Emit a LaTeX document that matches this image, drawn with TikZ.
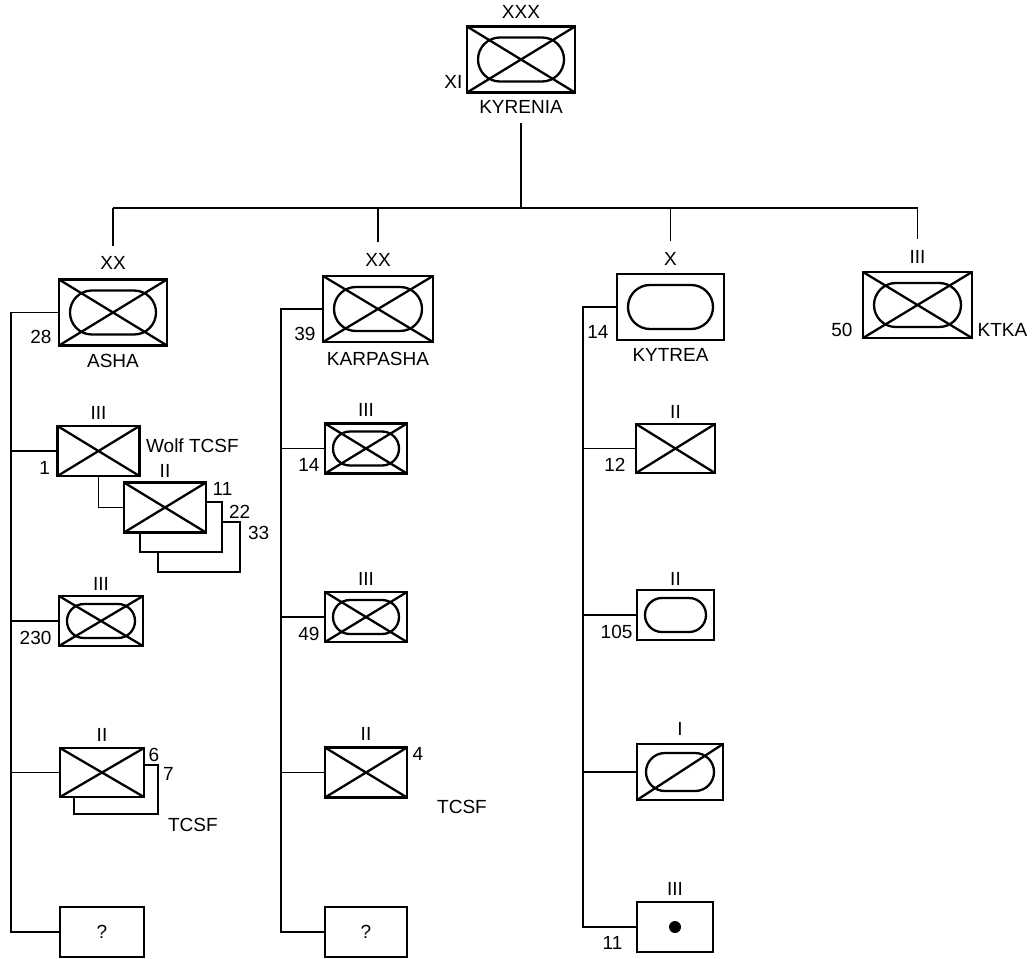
\documentclass[tikz,border=0pt]{standalone}
\usepackage{fontspec}
\setmainfont{Liberation Sans}
\usetikzlibrary{positioning}

\newcommand\unitcross{\draw[sym] (path picture bounding box.south west) -- (path picture bounding box.north east)
  (path picture bounding box.north west) -- (path picture bounding box.south east);}
\newcommand\unitoval[2]{\draw[sym,rounded corners=#2] ([shift={(#1,-#1)}]path picture bounding box.north west)
  rectangle ([shift={(-#1,#1)}]path picture bounding box.south east);}

\tikzset{
  sym/.style={line width=2.3pt},
  unit/.style={draw, line width=2.8pt, fill=white, inner sep=0pt},
  big/.style={unit, minimum width=108pt, minimum height=66pt},
  small/.style={unit, minimum width=82pt, minimum height=50pt},
  inf/.style={path picture={\unitcross}},
  mechbig/.style={path picture={\unitcross\unitoval{11pt}{21.9pt}}},
  mechsmall/.style={path picture={\unitcross\unitoval{8pt}{16.9pt}}},
  armbig/.style={path picture={\unitoval{11pt}{21.9pt}}},
  armsmall/.style={path picture={\unitoval{8pt}{16.9pt}}},
  stackbox/.style={draw, line width=1.8pt, fill=white, inner sep=0pt, minimum width=82pt, minimum height=50pt},
  ech/.style={inner sep=1pt},
  num/.style={inner sep=1pt},
  link/.style={line width=1.3pt},
}

\begin{document}
\begin{tikzpicture}[x=1pt,y=-1pt,font=\fontsize{19}{22}\selectfont]
\useasboundingbox (0,0) rectangle (1032,958);
% corps
\node[big,mechbig] (kyrenia) at (521,59.5) {};
\node[ech,above=5pt of kyrenia] (kyrxxx) {XXX};
\node[num,anchor=south east] (kyrxi) at ([xshift=-2pt,yshift=4pt]kyrenia.south west) {XI};
\node[ech,below=5pt of kyrenia] (kyrname) {KYRENIA};
\coordinate (bus) at (521,208);

% ASHA division
\node[big,mechbig] (asha) at (113,312.5) {};
\node[ech,above=7pt of asha] (ashaxx) {XX};
\node[num,anchor=south east] (asha28) at ([xshift=-5pt,yshift=2pt]asha.south west) {28};
\node[ech,below=6pt of asha] (ashaname) {ASHA};
\coordinate (colA) at (11,0);
\node[small,inf] (wolf) at (98.5,451) {};
\node[ech,above=4pt of wolf] (wolfiii) {III};
\node[num,anchor=south east] (wolf1) at ([xshift=-5pt,yshift=2pt]wolf.south west) {1};
\node[num,anchor=base west] (wolfname) at ([xshift=4pt,yshift=-1pt]wolf.east) {Wolf TCSF};
\node[stackbox] (bat33) at (199,547) {};
\node[stackbox] (bat22) at (181,527) {};
\node[small,inf] (bat11) at (165,507.5) {};
\node[ech,above=2pt of bat11] (bat11ii) {II};
\node[num,anchor=north west] (lab11) at ([xshift=4pt]bat11.north east) {11};
\node[num,anchor=north west] (lab22) at ([xshift=5pt,yshift=-3pt]bat22.north east) {22};
\node[num,anchor=north west] (lab33) at ([xshift=6pt,yshift=-4pt]bat33.north east) {33};
\node[small,mechsmall,minimum width=84pt] (a230) at (101,621) {};
\node[ech,above=3pt of a230] (a230iii) {III};
\node[num,anchor=south east] (lab230) at ([xshift=-5pt,yshift=2pt]a230.south west) {230};
\node[stackbox,minimum width=84pt,minimum height=49pt] (bat7) at (116,789.5) {};
\node[small,inf,minimum width=84pt,minimum height=49pt] (bat6) at (102,772.5) {};
\node[ech,above=4pt of bat6] (bat6ii) {II};
\node[num,anchor=north west] (lab6) at ([xshift=2pt]bat6.north east) {6};
\node[num,anchor=north west] (lab7) at ([xshift=3pt,yshift=-2pt]bat7.north east) {7};
\node[num,anchor=west] (tcsfa) at ([xshift=8pt,yshift=-10pt]bat7.south east) {TCSF};
\node[small,minimum width=84pt] (qa) at (102,932) {?};
\draw[link] (asha.west) -- (asha.west -| colA) |- (qa.west);
\foreach \u in {wolf,a230,bat6} \draw[link] (\u.west) -- (\u.west -| colA);
\draw[link] (wolf.south) |- (bat11.west);

% KARPASHA division
\node[big,mechbig,minimum width=110pt] (karp) at (378,309) {};
\node[ech,above=7pt of karp] (karpxx) {XX};
\node[num,anchor=south east] (karp39) at ([xshift=-5pt,yshift=2pt]karp.south west) {39};
\node[ech,below=8pt of karp] (karpname) {KARPASHA};
\coordinate (colK) at (281,0);
\node[small,mechsmall] (k14) at (366,448.5) {};
\node[ech,above=4pt of k14] (k14iii) {III};
\node[num,anchor=south east] (lab14k) at ([xshift=-3pt,yshift=2pt]k14.south west) {14};
\node[small,mechsmall] (k49) at (366,617) {};
\node[ech,above=4pt of k49] (k49iii) {III};
\node[num,anchor=south east] (lab49) at ([xshift=-3pt,yshift=2pt]k49.south west) {49};
\node[small,inf] (k4) at (366,772.5) {};
\node[ech,above=4pt of k4] (k4ii) {II};
\node[num,anchor=north west] (lab4) at ([xshift=3pt]k4.north east) {4};
\node[num,anchor=west] (tcsfk) at (436,807) {TCSF};
\node[small] (qk) at (366,932) {?};
\draw[link] (karp.west) -- (karp.west -| colK) |- (qk.west);
\foreach \u in {k14,k49,k4} \draw[link] (\u.west) -- (\u.west -| colK);

% KYTREA brigade
\node[big,armbig,minimum width=107pt] (kyt) at (670.5,307) {};
\node[ech,above=6pt of kyt] (kytx) {X};
\node[num,anchor=south east] (kyt14) at ([xshift=-6pt,yshift=2pt]kyt.south west) {14};
\node[ech,below=6pt of kyt] (kytname) {KYTREA};
\coordinate (colT) at (583,0);
\node[small,inf,minimum width=79pt,minimum height=49pt] (t12) at (675.5,448.5) {};
\node[ech,above=3pt of t12] (t12ii) {II};
\node[num,anchor=south east] (lab12) at ([xshift=-8pt,yshift=2pt]t12.south west) {12};
\node[small,armsmall,minimum width=77pt] (t105) at (675.5,615) {};
\node[ech,above=2pt of t105] (t105ii) {II};
\node[num,anchor=south east] (lab105) at ([xshift=-2pt,yshift=2pt]t105.south west) {105};
\node[small,minimum width=86pt,minimum height=56pt,
  path picture={\draw[sym] (path picture bounding box.south west) -- (path picture bounding box.north east);
  \unitoval{9pt}{18.9pt}}] (trec) at (680,772) {};
\node[ech,above=6pt of trec] (treci) {I};
\node[small,minimum width=76pt,
  path picture={\fill[black] (path picture bounding box.center) circle (6pt);}] (t11) at (675,927) {};
\node[ech,above=4pt of t11] (t11iii) {III};
\node[num,anchor=north east] (lab11t) at ([xshift=-12pt,yshift=-8pt]t11.west) {11};
\draw[link] (kyt.west) -- (kyt.west -| colT) |- (t11.west);
\foreach \u in {t12,t105,trec} \draw[link] (\u.west) -- (\u.west -| colT);

% KTKA regiment
\node[big,mechbig,minimum width=109pt] (ktka) at (917.5,305) {};
\node[ech,above=6pt of ktka] (ktkaiii) {III};
\node[num,anchor=south east] (ktka50) at ([xshift=-8pt,yshift=2pt]ktka.south west) {50};
\node[num,anchor=south west] (ktkaname) at ([xshift=3pt,yshift=2pt]ktka.south east) {KTKA};

% tree
\draw[link] ([yshift=-9pt]kyrname.south) -- (bus);
\draw[link] (ashaxx.north |- bus) -- (ktkaiii.north |- bus);
\foreach \d in {ashaxx,karpxx,kytx,ktkaiii} \draw[link] (\d.north |- bus) -- ([yshift=10pt]\d.north);
\end{tikzpicture}
\end{document}
